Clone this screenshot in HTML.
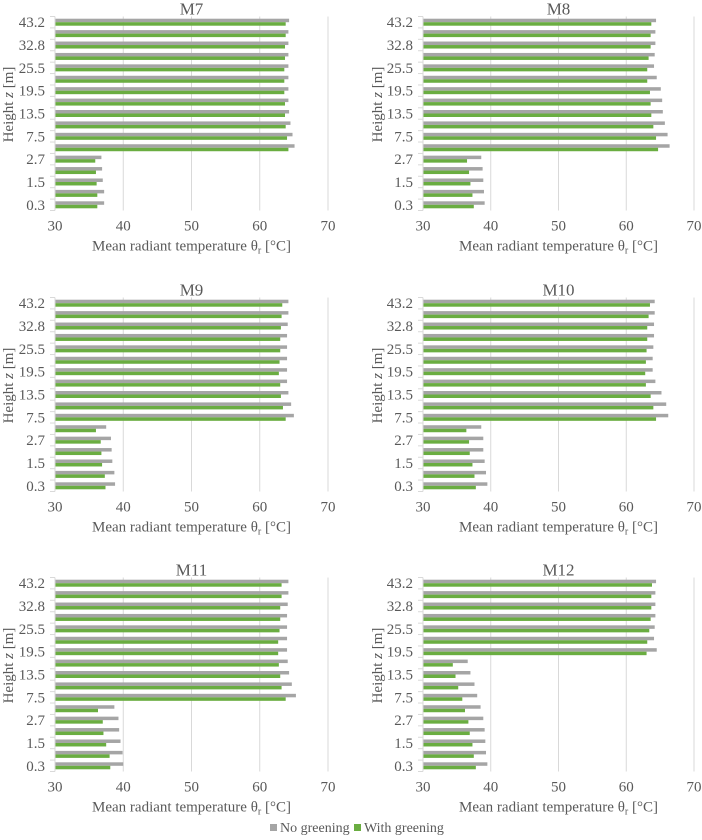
<!DOCTYPE html>
<html><head><meta charset="utf-8"><style>
html,body{margin:0;padding:0;background:#fff;}
svg{display:block;}
svg text, svg tspan{font-family:"Liberation Serif","DejaVu Serif",serif;fill:#595959;}
</style></head><body>
<svg id="chart" width="702" height="840" viewBox="0 0 702 840" xmlns="http://www.w3.org/2000/svg" font-family="Liberation Serif, serif"></svg>
<script>
const heightLabels = ["43.2","","32.8","","25.5","","19.5","","13.5","","7.5","","2.7","","1.5","","0.3"];
const xTicks = [30,40,50,60,70];
const panelNames = ["M7","M8","M9","M10","M11","M12"];
const noGreenM7  = [64.3,64.2,64.2,64.2,64.2,64.2,64.2,64.2,64.3,64.5,64.8,65.1,36.8,36.9,37.0,37.2,37.2];
const greenM7    = [63.8,63.8,63.7,63.7,63.6,63.6,63.6,63.7,63.7,63.8,64.0,64.2,35.9,36.0,36.1,36.2,36.2];
const noGreenM8  = [64.4,64.3,64.3,64.2,64.1,64.5,65.1,65.3,65.4,65.7,66.1,66.4,38.6,38.8,38.9,39.0,39.1];
const greenM8    = [63.7,63.6,63.6,63.3,63.1,63.1,63.5,63.6,63.7,64.0,64.4,64.7,36.5,36.8,37.0,37.3,37.5];
const noGreenM9  = [64.2,64.2,64.1,64.0,64.0,64.0,64.0,64.0,64.2,64.6,65.0,37.5,38.2,38.3,38.4,38.7,38.8];
const greenM9    = [63.3,63.2,63.1,63.0,63.0,62.9,62.8,63.0,63.1,63.4,63.8,36.0,36.7,36.8,36.9,37.3,37.4];
const noGreenM10 = [64.2,64.2,64.1,64.1,64.0,63.9,63.9,64.3,65.2,65.9,66.2,38.6,38.9,38.9,39.1,39.3,39.5];
const greenM10   = [63.5,63.3,63.1,63.1,63.0,62.9,62.8,62.9,63.6,64.0,64.4,36.4,36.8,36.9,37.3,37.6,37.8];
const noGreenM11 = [64.2,64.2,64.1,64.0,64.0,64.0,64.0,64.1,64.3,64.7,65.3,38.7,39.3,39.4,39.6,39.9,40.0];
const greenM11   = [63.2,63.2,63.0,63.0,62.9,62.7,62.7,62.8,63.0,63.2,63.8,36.3,37.0,37.1,37.5,38.0,38.1];
const noGreenM12 = [64.4,64.3,64.3,64.3,64.2,64.1,64.5,36.6,37.0,37.6,38.0,38.5,38.9,39.1,39.2,39.3,39.5];
const greenM12   = [63.8,63.7,63.7,63.6,63.4,63.1,63.0,34.4,34.8,35.2,35.8,36.2,36.7,36.9,37.3,37.5,37.8];

const noGreen = [noGreenM7,noGreenM8,noGreenM9,noGreenM10,noGreenM11,noGreenM12];
const green = [greenM7,greenM8,greenM9,greenM10,greenM11,greenM12];

const NS="http://www.w3.org/2000/svg";
const svg=document.getElementById('chart');
function mk(tag,attrs,parent){const e=document.createElementNS(NS,tag);for(const k in attrs)e.setAttribute(k,attrs[k]);(parent||svg).appendChild(e);return e;}

const colX=[{x0:55,x1:328,lab:45,yt:8},{x0:423,x1:694,lab:413,yt:377}];
const rowY=[16.5,297.5,577.5];
const PH=194;
for(let p=0;p<6;p++){
  const c=colX[p%2], top=rowY[Math.floor(p/2)], bot=top+PH;
  const g=mk('g',{});
  
  
  const xs=v=>c.x0+(v-xTicks[0])/(xTicks[xTicks.length-1]-xTicks[0])*(c.x1-c.x0);
  const n=heightLabels.length, band=PH/n;
  const ys=i=>top+i*band;
  xTicks.forEach((t,k)=>{
    if(k>0){const l=mk('line',{x1:xs(t),x2:xs(t),y1:top,y2:bot,stroke:'#d9d9d9','stroke-width':1},g);
      }
    const tx=mk('text',{x:xs(t),y:bot+20,'text-anchor':'middle','font-size':15},g);
    tx.textContent=t;
    
  });
  const ax=mk('line',{x1:c.x0,x2:c.x0,y1:top,y2:bot,stroke:'#d9d9d9','stroke-width':1},g);
  
  for(let i=0;i<=n;i++){mk('line',{x1:c.x0-5,x2:c.x0,y1:ys(i),y2:ys(i),stroke:'#d9d9d9','stroke-width':1},g);}
  for(let i=0;i<n;i++){
    const yc=ys(i)+band/2;
    const b1=mk('rect',{x:c.x0+0.5,y:yc-3.5,width:Math.max(0,xs(noGreen[p][i])-c.x0-0.5),height:3.5,fill:'#a5a5a5'},g);
    
    const b2=mk('rect',{x:c.x0+0.5,y:yc,width:Math.max(0,xs(green[p][i])-c.x0-0.5),height:3.5,fill:'#6aad41'},g);
    
    if(heightLabels[i]){
      const t=mk('text',{x:c.lab,y:yc+5,'text-anchor':'end','font-size':15},g);
      t.textContent=heightLabels[i];
      
    }
  }
  const ti=mk('text',{x:(c.x0+c.x1)/2,y:top-2,'text-anchor':'middle','font-size':17},g);
  ti.textContent=panelNames[p];
  
  const xt=mk('text',{x:(c.x0+c.x1)/2,y:bot+40,'text-anchor':'middle','font-size':15},g);
  xt.innerHTML='Mean radiant temperature θ<tspan font-size="10" dy="3">r</tspan><tspan dy="-3"> [°C]</tspan>';
  
  const yt=mk('text',{x:0,y:0,'text-anchor':'middle','font-size':15,transform:`translate(${c.yt+5},${top+88}) rotate(-90)`},g);
  yt.innerHTML='Height <tspan font-style="italic">z</tspan> [m]';
  
}
const lg=mk('g',{});

const l1=mk('rect',{x:270,y:824,width:7,height:7,fill:'#a5a5a5'},lg);

const lt1=mk('text',{x:280,y:832,'font-size':14},lg);lt1.textContent='No greening';

const l2=mk('rect',{x:354,y:824,width:7,height:7,fill:'#6aad41'},lg);

const lt2=mk('text',{x:364,y:832,'font-size':14},lg);lt2.textContent='With greening';

</script>
</body></html>
